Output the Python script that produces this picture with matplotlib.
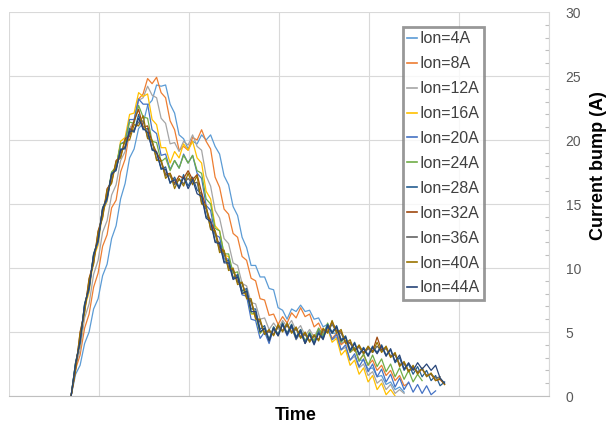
import numpy as np
import matplotlib
matplotlib.use("Agg")
import matplotlib.pyplot as plt

# time axis: all curves start at T0 and are sampled every DT (arbitrary units)
T0 = 0.69
DT = 0.05

labels = ["Ion=4A", "Ion=8A", "Ion=12A", "Ion=16A", "Ion=20A", "Ion=24A",
          "Ion=28A", "Ion=32A", "Ion=36A", "Ion=40A", "Ion=44A"]
colors = ["#5B9BD5", "#ED7D31", "#A5A5A5", "#FFC000", "#4472C4", "#70AD47",
          "#255E91", "#9E480E", "#636363", "#997300", "#264478"]

# current bump (A)
ion_4 = [0.0, 1.7, 2.4, 4.1, 5.0, 6.8, 7.6, 9.4, 10.3, 12.3,
         13.3, 15.4, 16.6, 18.6, 19.3, 20.9, 21.3, 22.7, 23.1, 24.3,
         24.2, 24.3, 22.8, 22.1, 20.4, 20.1, 19.3, 19.9, 19.7, 20.4,
         20.0, 20.4, 19.5, 18.9, 17.2, 16.5, 14.8, 14.1, 12.4, 11.6,
         10.2, 10.2, 9.3, 9.3, 8.4, 8.3, 6.9, 6.7, 6.0, 6.8,
         6.6, 7.1, 6.6, 6.7, 6.0, 6.1, 5.4, 5.6, 4.9, 4.9,
         4.1, 4.3, 3.6, 3.7, 2.8, 2.8, 2.1, 2.2, 1.5, 1.6,
         0.9, 1.1, 0.5, 0.7, 0.3]
ion_8 = [0.0, 2.1, 3.2, 5.3, 6.4, 8.5, 9.6, 11.7, 12.6, 14.7,
         15.3, 17.5, 18.5, 20.7, 21.5, 23.2, 23.6, 24.8, 24.4, 24.9,
         23.7, 23.3, 21.5, 20.8, 19.2, 19.5, 19.2, 20.2, 20.0, 20.8,
         19.9, 19.3, 17.1, 16.3, 14.6, 14.2, 12.7, 12.4, 10.9, 10.6,
         9.2, 9.0, 7.6, 7.5, 6.3, 6.4, 5.6, 6.2, 5.7, 6.5,
         6.1, 6.9, 6.2, 6.4, 5.4, 5.7, 4.9, 5.3, 4.5, 4.9,
         4.0, 4.3, 3.4, 3.7, 2.8, 3.2, 2.4, 2.8, 2.0, 2.4,
         1.6, 2.0, 1.2, 1.6, 0.8, 1.0]
ion_12 = [0.0, 2.3, 3.6, 6.1, 7.2, 9.5, 10.6, 12.8, 13.7, 15.7,
          16.5, 18.4, 19.1, 20.9, 21.5, 23.1, 23.3, 24.2, 23.5, 23.3,
          21.7, 21.3, 19.7, 19.8, 19.1, 19.9, 19.6, 20.4, 19.5, 19.2,
          17.2, 16.4, 14.5, 13.9, 12.3, 11.9, 10.4, 10.2, 8.8, 8.6,
          7.3, 7.2, 6.0, 6.1, 5.2, 5.7, 5.2, 5.9, 5.4, 5.9,
          5.1, 5.5, 4.7, 5.2, 4.6, 5.3, 4.8, 5.3, 4.4, 4.6,
          3.6, 3.8, 2.8, 3.1, 2.2, 2.5, 1.6, 1.9, 1.0, 1.3,
          0.5, 0.9, 0.2, 0.5, 0.2]
ion_16 = [0.0, 2.6, 4.0, 6.9, 8.1, 10.8, 11.8, 14.4, 15.2, 17.4,
          17.9, 19.9, 20.2, 22.0, 22.1, 23.7, 23.4, 23.6, 21.6, 21.2,
          19.4, 19.4, 18.2, 19.1, 18.6, 19.7, 19.2, 19.9, 18.6, 18.2,
          16.0, 15.4, 13.3, 12.9, 11.0, 10.9, 9.3, 9.4, 8.0, 8.0,
          6.4, 6.4, 4.9, 5.3, 4.3, 5.3, 4.7, 5.6, 4.8, 5.4,
          4.4, 5.0, 4.1, 4.8, 4.1, 5.1, 4.5, 5.3, 4.2, 4.5,
          3.2, 3.6, 2.4, 2.8, 1.7, 2.2, 1.1, 1.6, 0.5, 1.0,
          0.1, 0.5, 0.0]
ion_20 = [0.0, 2.6, 4.1, 7.1, 8.3, 11.0, 12.0, 14.5, 15.3, 17.4,
          17.8, 19.7, 19.9, 21.6, 21.6, 23.2, 22.8, 22.8, 20.8, 20.5,
          18.8, 18.9, 17.7, 18.4, 17.8, 18.9, 18.2, 18.8, 17.4, 17.0,
          14.9, 14.5, 12.6, 12.4, 10.7, 10.7, 9.2, 9.4, 7.9, 7.8,
          6.0, 5.9, 4.5, 5.0, 4.1, 5.3, 4.7, 5.6, 4.7, 5.4,
          4.4, 5.0, 4.1, 4.9, 4.2, 5.2, 4.6, 5.4, 4.4, 4.8,
          3.6, 4.0, 2.8, 3.3, 2.3, 2.9, 1.9, 2.5, 1.5, 2.1,
          1.1, 1.7, 0.7, 1.4, 0.5, 1.1, 0.3, 0.9, 0.2, 0.8,
          0.1, 0.4]
ion_24 = [0.0, 2.6, 4.3, 7.2, 8.5, 11.1, 12.2, 14.7, 15.5, 17.5,
          17.9, 19.7, 19.8, 21.4, 21.3, 22.7, 21.8, 21.7, 19.9, 19.8,
          18.3, 18.6, 17.6, 18.4, 17.8, 18.8, 18.2, 18.8, 17.6, 17.4,
          15.4, 15.0, 13.1, 12.9, 11.1, 11.1, 9.6, 9.7, 8.2, 8.2,
          6.5, 6.4, 4.9, 5.3, 4.4, 5.4, 4.8, 5.7, 4.9, 5.6,
          4.6, 5.2, 4.3, 5.0, 4.3, 5.3, 4.7, 5.7, 4.9, 5.4,
          4.2, 4.6, 3.4, 3.8, 2.7, 3.3, 2.4, 3.2, 2.3, 2.9,
          1.9, 2.5, 1.5, 2.2, 1.3, 2.0, 1.1, 1.7, 1.2]
ion_28 = [0.0, 2.6, 4.2, 7.2, 8.4, 11.1, 12.1, 14.7, 15.4, 17.4,
          17.6, 19.3, 19.3, 20.9, 20.6, 22.0, 20.8, 20.9, 19.2, 19.1,
          17.7, 17.9, 16.6, 17.1, 16.3, 17.3, 16.4, 17.1, 16.1, 15.8,
          14.0, 13.8, 12.1, 12.0, 10.5, 10.6, 9.2, 9.5, 8.2, 8.4,
          6.8, 6.8, 5.2, 5.5, 4.4, 5.4, 4.8, 5.7, 4.9, 5.6,
          4.6, 5.2, 4.2, 4.9, 4.1, 5.0, 4.5, 5.6, 5.0, 5.5,
          4.4, 4.7, 3.6, 4.2, 3.3, 3.8, 3.2, 3.9, 3.4, 4.0,
          3.2, 3.6, 2.6, 3.0, 2.0, 2.5, 1.7, 2.3, 1.5, 2.0,
          1.2, 1.6, 0.8, 1.1]
ion_32 = [0.0, 2.0, 5.0, 6.6, 9.2, 10.4, 12.9, 14.0, 16.2, 16.7,
          18.4, 18.7, 20.1, 20.3, 21.5, 22.4, 21.0, 21.1, 19.8, 19.0,
          18.4, 17.3, 17.4, 16.6, 17.2, 17.0, 17.6, 16.9, 17.3, 15.9,
          14.7, 13.6, 12.9, 11.6, 11.3, 10.0, 9.9, 8.9, 8.8, 7.7,
          7.4, 6.1, 5.8, 4.9, 5.1, 4.8, 5.5, 5.1, 5.6, 5.0,
          5.3, 4.6, 4.9, 4.3, 4.7, 4.4, 5.2, 5.0, 5.8, 5.1,
          5.0, 4.2, 4.2, 3.6, 3.9, 3.4, 3.8, 3.5, 4.6, 3.6,
          3.8, 3.1, 3.3, 2.4, 2.6, 1.9, 2.3, 1.8, 2.1, 1.6,
          1.7, 1.2, 1.3, 0.9]
ion_36 = [0.0, 2.4, 4.4, 7.0, 8.6, 10.9, 12.3, 14.6, 15.6, 17.2,
          17.8, 19.1, 19.5, 20.6, 20.8, 21.4, 21.5, 20.2, 19.9, 18.5,
          18.3, 17.2, 17.2, 16.5, 16.9, 16.6, 17.0, 16.6, 16.7, 15.1,
          14.6, 13.1, 12.7, 11.4, 11.1, 10.0, 9.8, 8.9, 8.8, 7.8,
          7.4, 6.2, 5.8, 4.9, 5.0, 4.8, 5.4, 5.1, 5.5, 5.0,
          5.2, 4.6, 4.8, 4.3, 4.7, 4.4, 5.1, 5.0, 5.6, 5.0,
          4.9, 4.2, 4.1, 3.6, 3.8, 3.3, 3.7, 3.4, 3.9, 3.5,
          3.7, 3.1, 3.2, 2.5, 2.5, 2.0, 2.2, 1.9, 2.1, 1.6,
          1.7, 1.4, 1.5]
ion_40 = [0.0, 2.1, 4.9, 6.5, 9.1, 10.3, 12.8, 13.9, 16.1, 16.6,
          18.3, 18.6, 20.0, 20.0, 21.2, 21.1, 21.9, 20.1, 20.0, 18.4,
          18.4, 17.0, 17.4, 16.2, 17.0, 16.4, 17.4, 16.5, 17.2, 15.0,
          14.9, 13.0, 12.9, 11.2, 11.4, 9.8, 10.0, 8.7, 8.9, 7.6,
          7.6, 6.0, 6.0, 4.8, 5.2, 4.7, 5.6, 5.0, 5.7, 4.9,
          5.4, 4.5, 5.0, 4.2, 4.8, 4.3, 5.3, 4.9, 5.9, 4.9,
          5.2, 4.1, 4.4, 3.5, 4.0, 3.3, 3.9, 3.4, 4.2, 3.4,
          3.9, 3.0, 3.4, 2.3, 2.7, 1.9, 2.4, 1.7, 2.2, 1.5,
          1.8, 1.2, 1.4, 0.9]
ion_44 = [0.0, 2.5, 4.3, 7.1, 8.5, 11.0, 12.2, 14.6, 15.5, 17.3,
          17.7, 19.2, 19.4, 20.7, 20.7, 21.7, 20.9, 20.6, 19.3, 19.0,
          17.8, 17.7, 16.7, 16.9, 16.2, 17.1, 16.2, 16.9, 15.8, 15.6,
          13.9, 13.6, 12.0, 11.9, 10.4, 10.4, 9.1, 9.3, 8.0, 8.2,
          6.6, 6.6, 5.0, 5.3, 4.3, 5.3, 4.7, 5.6, 4.8, 5.5,
          4.5, 5.1, 4.1, 4.8, 4.0, 4.9, 4.4, 5.5, 4.9, 5.4,
          4.3, 4.6, 3.5, 4.1, 3.2, 3.7, 3.1, 3.8, 3.3, 3.9,
          3.1, 3.7, 2.7, 3.2, 2.1, 2.6, 2.0, 2.6, 2.1, 2.5,
          2.0, 2.4, 1.4, 1.0]

series = [ion_4, ion_8, ion_12, ion_16, ion_20, ion_24,
          ion_28, ion_32, ion_36, ion_40, ion_44]

plt.rcParams["font.family"] = ["Liberation Sans", "DejaVu Sans"]

fig = plt.figure(figsize=(6.08, 4.28), dpi=100)
ax = fig.add_axes([9 / 608, 1 - 396 / 428, 540 / 608, 384 / 428])

for vals, lab, col in zip(series, labels, colors):
    t = T0 + DT * np.arange(len(vals))
    ax.plot(t, vals, color=col, lw=0.9, label=lab)

ax.set_xlim(0, 6)
ax.set_ylim(0, 30)
ax.set_xticks(np.arange(0, 7, 1))
ax.set_xticklabels([])
ax.set_yticks(np.arange(0, 31, 5))
ax.set_yticks(np.arange(0, 31, 1), minor=True)
ax.yaxis.tick_right()
ax.yaxis.set_label_position("right")
ax.tick_params(axis="x", length=0)
ax.tick_params(axis="y", which="major", length=0, pad=12,
               labelsize=10, labelcolor="#595959")
ax.tick_params(axis="y", which="minor", direction="in", length=3,
               color="#BFBFBF", width=0.8)
ax.grid(True, which="major", color="#D9D9D9", lw=0.8)
ax.set_axisbelow(True)

for side in ["top", "left"]:
    ax.spines[side].set_visible(False)
ax.spines["bottom"].set_color("#BFBFBF")
ax.spines["right"].set_color("#D9D9D9")

ax.set_xlabel("Time", fontsize=13, fontweight="bold", va="center")
ax.xaxis.set_label_coords(0.53, -0.05)
ax.set_ylabel("Current bump (A)", fontsize=13, fontweight="bold",
              va="center")
ax.yaxis.set_label_coords(1.092, 0.60)

leg = ax.legend(loc="upper left", bbox_to_anchor=(403 / 608, 1 - 27 / 428),
                bbox_transform=fig.transFigure, frameon=True, fancybox=False,
                fontsize=11.5, handlelength=0.6, handletextpad=0.15,
                labelspacing=0.62, borderpad=0.28, borderaxespad=0)
leg.get_frame().set_edgecolor("#7F7F7F")
leg.get_frame().set_linewidth(2)
for line in leg.get_lines():
    line.set_linewidth(1.2)
for txt in leg.get_texts():
    txt.set_color("#404040")

fig.savefig("out.png", dpi=100)
